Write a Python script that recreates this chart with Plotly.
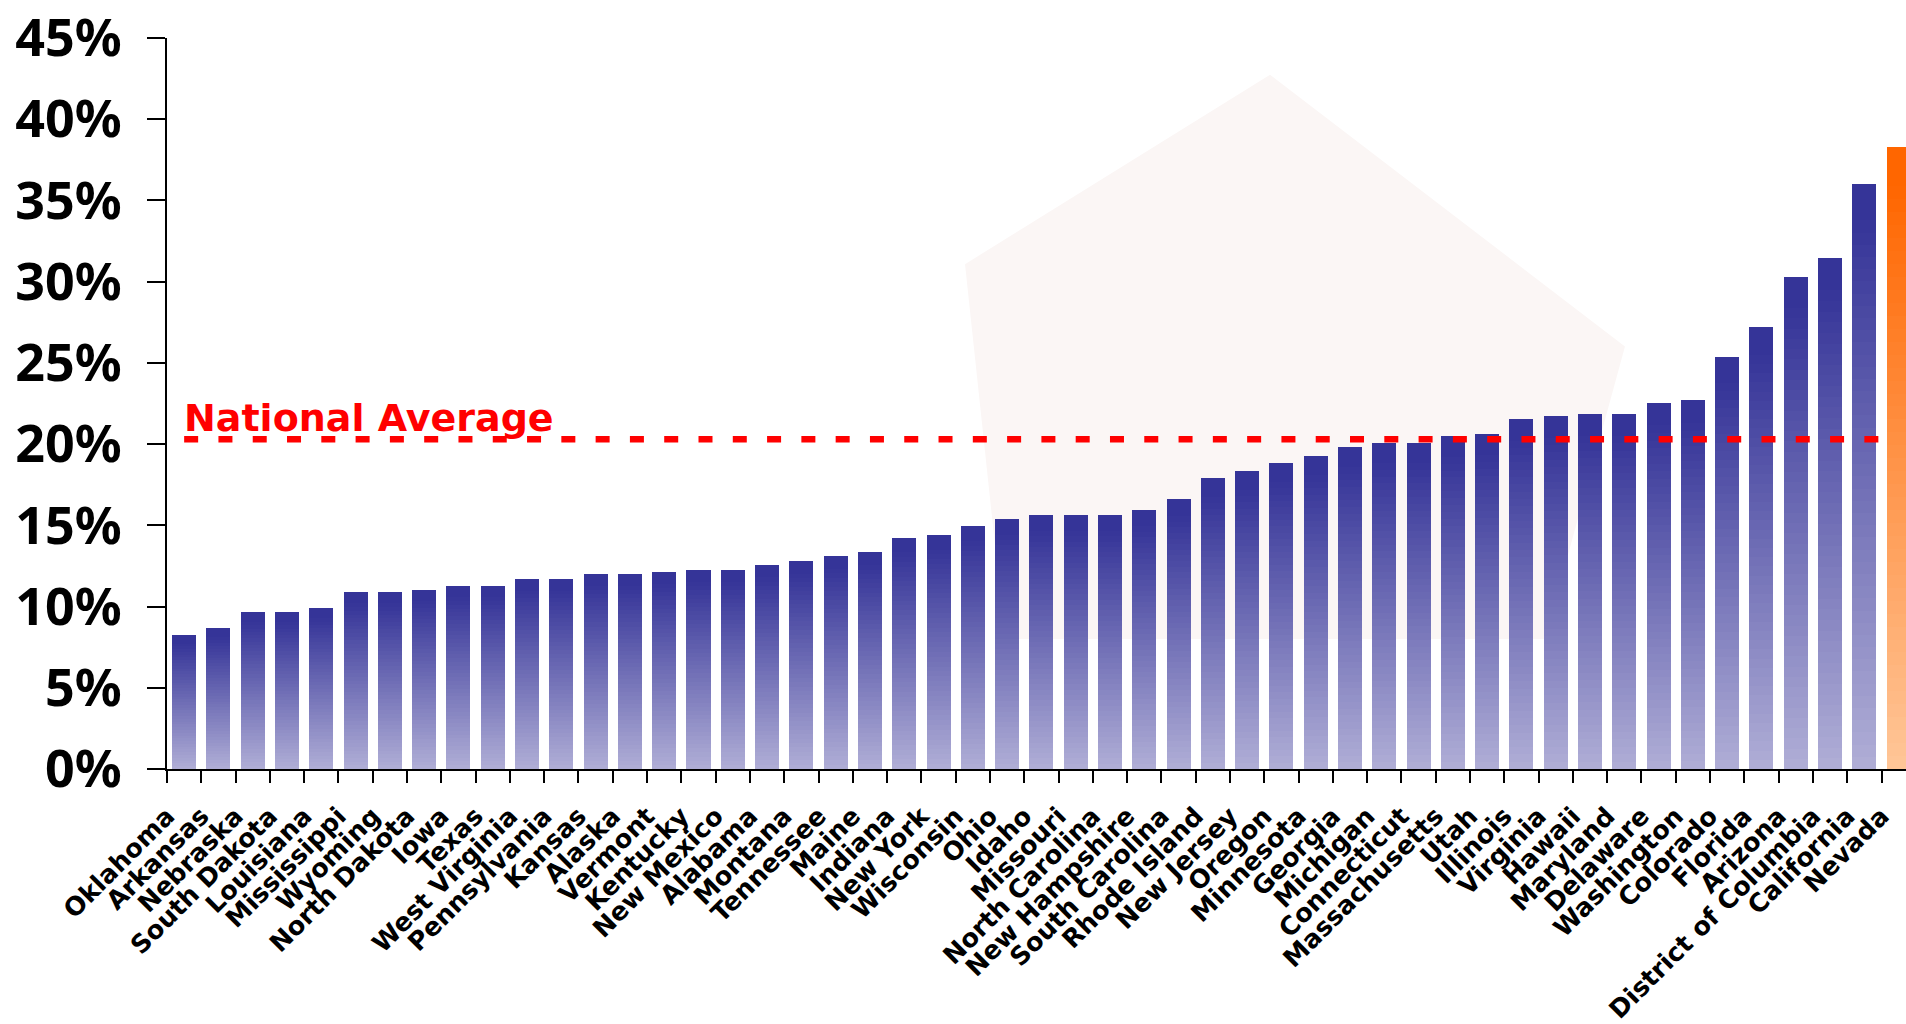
import plotly.graph_objects as go

# ---------------- data ----------------
states = [
    "Oklahoma", "Arkansas", "Nebraska", "South Dakota", "Louisiana", "Mississippi",
    "Wyoming", "North Dakota", "Iowa", "Texas", "West Virginia", "Pennsylvania",
    "Kansas", "Alaska", "Vermont", "Kentucky", "New Mexico", "Alabama", "Montana",
    "Tennessee", "Maine", "Indiana", "New York", "Wisconsin", "Ohio", "Idaho",
    "Missouri", "North Carolina", "New Hampshire", "South Carolina", "Rhode Island",
    "New Jersey", "Oregon", "Minnesota", "Georgia", "Michigan", "Connecticut",
    "Massachusetts", "Utah", "Illinois", "Virginia", "Hawaii", "Maryland", "Delaware",
    "Washington", "Colorado", "Florida", "Arizona", "District of Columbia",
    "California", "Nevada",
]
rates = [
    8.24, 8.67, 9.65, 9.65, 9.89, 10.87,
    10.87, 11.05, 11.29, 11.29, 11.72, 11.72,
    12.03, 12.03, 12.15, 12.27, 12.27, 12.58, 12.82,
    13.13, 13.37, 14.22, 14.41, 14.96, 15.38, 15.63,
    15.63, 15.63, 15.93, 16.61, 17.89,
    18.32, 18.86, 19.29, 19.84, 20.09, 20.09,
    20.51, 20.64, 21.57, 21.76, 21.87, 21.87, 22.56,
    22.72, 25.37, 27.20, 30.26, 31.43,
    36.02, 38.26,
]
national_average = 20.3
highlight_state = "Nevada"
y_tick_values = [0, 5, 10, 15, 20, 25, 30, 35, 40, 45]
y_tick_labels = ["0%", "5%", "10%", "15%", "20%", "25%", "30%", "35%", "40%", "45%"]

# ---------------- style ----------------
BLUE_TOP = (53, 52, 152)
BLUE_BOTTOM = (176, 174, 214)
ORANGE_TOP = (255, 102, 0)
ORANGE_BOTTOM = (255, 198, 152)
N_SEG = 48


def mix(a, b, t):
    return "rgb(%d,%d,%d)" % tuple(round(a[i] + (b[i] - a[i]) * t) for i in range(3))


fig = go.Figure()

# gradient bars built as stacked slices of each bar's own value
for k in range(N_SEG):
    from_top = 1 - (k + 0.5) / N_SEG
    f = min(max((from_top - 0.06) / 0.94, 0.0), 1.0)
    colors = [
        mix(ORANGE_TOP, ORANGE_BOTTOM, f) if s == highlight_state else mix(BLUE_TOP, BLUE_BOTTOM, f)
        for s in states
    ]
    fig.add_trace(go.Bar(
        x=states,
        y=[v / N_SEG for v in rates],
        marker=dict(color=colors, line=dict(width=0)),
        hoverinfo="skip",
        showlegend=False,
    ))

W, H = 1906, 1024
ML, MR, MT, MB = 167, 0, 34, 253
plot_w = W - ML - MR
x_right = -0.5 + plot_w / 34.29
cat_px = plot_w / (x_right + 0.5)

fig.add_trace(go.Scatter(
    x=states,
    y=[national_average] * len(states),
    mode="lines",
    line=dict(color="#FF0000", width=6.5, dash="14px,%.2fpx" % (cat_px - 14)),
    hoverinfo="skip",
    showlegend=False,
))

fig.add_annotation(
    x=states[0], y=national_average, xref="x", yref="y",
    text="National Average", showarrow=False,
    xanchor="left", yanchor="bottom", xshift=-2, yshift=-3,
    font=dict(family="DejaVu Sans", size=38, color="#FF0000", weight="bold"),
)

# faint background watermark shape
def px2paper(px, py):
    return (px - ML) / plot_w, (H - MB - py) / (H - MT - MB)

poly = [(1270, 71), (1625, 345), (1545, 640), (1005, 640), (965, 262)]
pts = [px2paper(*p) for p in poly]
path = "M " + " L ".join("%.4f,%.4f" % p for p in pts) + " Z"
fig.add_shape(type="path", path=path, xref="paper", yref="paper",
              fillcolor="#fbf6f5", line=dict(width=0), layer="below")

fig.update_layout(
    width=W, height=H,
    margin=dict(l=ML, r=MR, t=MT, b=MB, pad=0),
    paper_bgcolor="white",
    plot_bgcolor="rgba(0,0,0,0)",
    barmode="stack",
    bargap=0.30,
    showlegend=False,
    xaxis=dict(
        type="category",
        range=[-0.5, x_right],
        showline=True, linecolor="black", linewidth=2,
        ticks="outside", ticklen=12, tickwidth=2, tickcolor="black",
        tickson="boundaries",
        tickangle=-45,
        ticklabelstandoff=20,
        ticklabelshift=-17,
        tickfont=dict(family="DejaVu Sans", size=25.5, color="black", weight="bold"),
        showgrid=False, zeroline=False,
    ),
    yaxis=dict(
        range=[0, 45],
        tickvals=y_tick_values, ticktext=y_tick_labels,
        showline=True, linecolor="black", linewidth=2,
        ticks="outside", ticklen=18, tickwidth=2, tickcolor="black",
        ticklabelstandoff=15,
        ticklabeloverflow="allow",
        tickfont=dict(family="Noto Sans", size=52, color="black", weight="bold"),
        showgrid=False, zeroline=False,
    ),
)

fig.write_html(
    "out.html",
    config={"displayModeBar": False},
    post_script="document.body.style.margin='0';document.body.style.overflow='hidden';",
)
